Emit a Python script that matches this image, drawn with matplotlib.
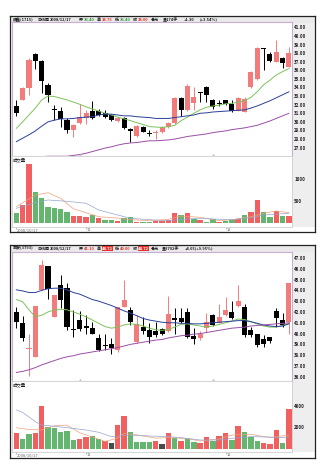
import matplotlib.pyplot as plt
from matplotlib.patches import Rectangle

plt.rcParams['font.family'] = ['Noto Sans CJK SC', 'DejaVu Sans']

W, H = 328, 466

# ---------------- top stock (daily, 2008/10/17 - 2008/12/17)
top_open = [31.8, 32.6, 33.9, 37.9, 37.1, 34.3, 31.45, 31.3, 30.2, 29.0,
            29.9, 30.5, 31.3, 31.3, 31.0, 30.8, 30.1, 30.4, 29.15, 28.3,
            29.45, 28.65, 28.7, 28.8, 29.4, 29.85, 32.8, 31.4, 32.15, 33.45,
            34.0, 32.5, 32.2, 32.5, 32.1, 31.3, 31.2, 34.0, 34.95, 38.5,
            37.85, 37.0, 37.4, 36.4]
top_close = [31.0, 33.9, 37.2, 37.1, 34.7, 33.1, 31.35, 30.3, 29.05, 29.6,
             30.6, 31.0, 30.4, 30.8, 30.6, 30.2, 30.5, 29.25, 28.95, 29.5,
             28.85, 28.6, 28.75, 29.4, 29.9, 32.8, 31.4, 34.2, 32.95, 33.35,
             33.1, 31.7, 32.1, 32.1, 31.3, 32.8, 32.65, 35.8, 38.6, 38.45,
             37.1, 38.15, 36.8, 38.0]
top_high = [32.55, 34.0, 37.4, 38.0, 37.2, 34.55, 32.0, 31.7, 30.45, 29.7,
            32.1, 31.4, 32.4, 31.5, 31.4, 30.9, 30.6, 30.55, 29.25, 29.6,
            29.5, 29.0, 29.0, 29.5, 30.0, 32.9, 32.9, 34.4, 34.0, 33.5,
            34.15, 32.65, 32.5, 32.6, 32.5, 32.95, 32.9, 35.9, 38.7, 38.65,
            38.15, 39.5, 37.55, 38.75]
top_low = [30.7, 32.5, 33.1, 36.15, 33.4, 32.35, 30.2, 29.4, 28.75, 28.2,
           29.75, 29.75, 30.3, 30.7, 30.5, 30.1, 30.0, 29.15, 27.7, 28.2,
           28.8, 28.4, 28.0, 28.7, 29.3, 29.7, 30.7, 31.3, 31.4, 32.35,
           32.35, 31.5, 31.9, 31.95, 31.2, 31.3, 31.1, 33.9, 34.9, 36.05,
           37.0, 37.0, 36.23, 36.4]
top_ma_g = [29.25, 30.0, 30.8, 31.6, 32.55, 33.0, 32.95, 32.75, 32.55, 32.3,
            32.05, 31.75, 31.5, 31.25, 31.0, 30.8, 30.55, 30.35, 30.15, 29.9,
            29.7, 29.45, 29.4, 29.35, 29.45, 29.6, 30.15, 30.55, 31.0, 31.4,
            31.7, 31.85, 31.95, 32.1, 32.15, 32.3, 32.45, 32.85, 33.5, 34.3,
            34.85, 35.45, 35.85, 36.2]
top_ma_b = [27.7, 28.1, 28.5, 28.95, 29.5, 30.0, 30.2, 30.35, 30.35, 30.4,
            30.5, 30.55, 30.6, 30.8, 30.9, 30.9, 30.8, 30.7, 30.7, 30.6,
            30.55, 30.5, 30.4, 30.4, 30.4, 30.5, 30.6, 30.7, 30.8, 31.0,
            31.05, 31.15, 31.2, 31.25, 31.3, 31.35, 31.4, 31.6, 31.85, 32.15,
            32.45, 32.8, 33.15, 33.5]
top_ma_p = [25.95, 25.95, 25.95, 25.95, 25.95, 26.0, 26.0, 26.0, 26.0, 26.1,
            26.2, 26.35, 26.55, 26.75, 26.95, 27.1, 27.3, 27.45, 27.55, 27.6,
            27.7, 27.8, 27.8, 27.85, 27.9, 28.0, 28.15, 28.3, 28.4, 28.5,
            28.6, 28.75, 28.85, 28.95, 29.1, 29.2, 29.3, 29.45, 29.6, 29.85,
            30.1, 30.4, 30.7, 31.0]
top_vol = [227, 416, 1341, 705, 575, 377, 355, 332, 257, 173,
           173, 150, 189, 127, 82, 68, 52, 127, 143, 36,
           36, 36, 59, 45, 68, 227, 189, 234, 91, 82,
           36, 105, 23, 59, 82, 91, 182, 250, 523, 257,
           150, 280, 173, 174]
top_vol_col = list('grrggggggr' 'rrgrggrggr' 'ggrrrrgrgr' 'ggrggrgrrg' 'grgr')
top_vma5_x = [0, 3, 5, 7, 9, 13, 16, 18, 21, 24, 26, 29, 32, 34, 37, 39, 41, 43]
top_vma5 = [377, 643, 695, 568, 330, 150, 118, 82, 59, 91, 167, 136, 59, 82, 150, 227, 280, 242]
top_vma10_x = [0, 3, 5, 8, 11, 13, 16, 18, 21, 24, 26, 29, 32, 34, 37, 39, 43]
top_vma10 = [341, 468, 530, 500, 455, 302, 189, 114, 82, 59, 91, 114, 91, 82, 127, 189, 227]
top_head = [(13, '顺鑫(1715)', 'k', False), (37, '日线图', 'k', False),
            (50, '2008/12/17', 'k', False), (79, '开', 'k', False),
            (84, '36.40', 'g', False), (97, '高', 'k', False),
            (102, '38.75', 'r', False), (115, '低', 'k', False),
            (120, '36.40', 'g', False), (133, '收', 'k', False),
            (138, '38.00', 'r', False), (151, '◆元', 'k', False),
            (163, '量174手', 'k', False), (184, '+1.30', 'k', False),
            (200, '(+3.54%)', 'k', False)]

# ---------------- bottom stock
bot_open = [42.03, 41.0, 38.6, 37.8, 44.05, 46.25, 41.5, 44.5, 44.2, 40.35,
            41.25, 40.7, 40.55, 39.55, 38.95, 39.05, 38.5, 42.5, 42.2, 39.25,
            40.65, 40.35, 40.25, 40.4, 40.2, 41.4, 41.4, 42.0, 39.8, 39.55,
            40.5, 41.7, 41.0, 41.7, 42.0, 42.55, 42.5, 40.35, 39.95, 39.5,
            39.65, 42.1, 41.3, 41.1]
bot_close = [41.1, 39.6, 38.65, 42.55, 46.35, 44.1, 43.6, 43.1, 40.6, 40.3,
             40.4, 40.5, 40.0, 38.5, 38.85, 38.65, 42.5, 43.1, 41.1, 40.85,
             40.2, 39.65, 39.85, 39.95, 41.8, 41.3, 41.1, 39.7, 39.5, 40.0,
             41.1, 40.8, 41.55, 42.2, 41.4, 43.05, 39.85, 39.85, 38.95, 39.05,
             39.3, 41.4, 40.8, 44.72]
bot_high = [42.5, 41.6, 40.0, 42.55, 46.8, 46.25, 43.6, 45.4, 44.65, 42.2,
            42.1, 41.7, 41.1, 40.0, 40.0, 39.55, 42.5, 45.0, 42.5, 41.7,
            41.55, 40.95, 41.1, 40.5, 43.5, 42.35, 42.35, 42.35, 40.5, 40.2,
            41.95, 41.8, 42.75, 43.4, 43.05, 44.5, 42.7, 40.6, 40.0, 39.87,
            39.65, 42.35, 41.95, 44.72]
bot_low = [40.5, 39.35, 36.1, 37.8, 44.05, 43.2, 41.5, 42.35, 40.35, 39.7,
           40.27, 40.0, 39.95, 38.4, 38.45, 38.1, 38.3, 42.5, 40.8, 39.15,
           40.0, 39.1, 39.7, 39.9, 40.1, 39.95, 40.95, 39.6, 39.05, 39.4,
           40.1, 40.7, 40.95, 41.65, 41.35, 42.5, 39.7, 39.7, 38.8, 38.8,
           39.1, 40.6, 40.6, 40.0]
bot_ma_b = [44.05, 43.95, 43.8, 43.8, 44.0, 44.15, 44.2, 44.2, 44.05, 43.8,
            43.65, 43.4, 43.15, 43.0, 42.8, 42.6, 42.35, 42.1, 41.9, 41.65,
            41.4, 41.25, 41.15, 41.05, 41.0, 41.0, 40.95, 40.95, 40.9, 40.9,
            40.95, 41.0, 41.05, 41.1, 41.15, 41.2, 41.2, 41.1, 40.95, 40.8,
            40.7, 40.65, 40.7, 40.9]
bot_ma_g = [43.15, 42.95, 42.2, 41.55, 41.7, 42.0, 42.2, 42.25, 42.2, 42.0,
            41.8, 41.55, 41.25, 40.95, 40.65, 40.5, 40.6, 40.8, 40.9, 40.85,
            40.7, 40.5, 40.35, 40.3, 40.4, 40.6, 40.85, 40.9, 40.8, 40.7,
            40.6, 40.7, 40.85, 41.0, 41.15, 41.35, 41.3, 41.1, 40.9, 40.7,
            40.6, 40.6, 40.75, 40.95]
bot_ma_p = [36.4, 36.5, 36.65, 36.85, 37.1, 37.3, 37.5, 37.7, 37.85, 37.95,
            38.1, 38.2, 38.3, 38.4, 38.5, 38.6, 38.7, 38.85, 39.0, 39.1,
            39.2, 39.3, 39.4, 39.45, 39.6, 39.7, 39.8, 39.85, 39.95, 40.0,
            40.1, 40.2, 40.3, 40.4, 40.5, 40.55, 40.6, 40.7, 40.75, 40.8,
            40.85, 40.9, 40.95, 41.0]
bot_vol = [1447, 922, 1383, 1447, 3992, 2056, 1905, 1537, 1660, 800,
           891, 1137, 1199, 922, 738, 522, 2213, 3043, 1567, 676,
           676, 615, 738, 461, 1447, 983, 768, 922, 676, 522,
           1106, 738, 1168, 1506, 830, 2152, 1537, 1106, 738, 522,
           461, 1721, 584, 3702]
bot_vol_col = list('rggrrggggg' 'rrggrkrrgg' 'ggrkrgrggr' 'rgrrgrgggr' 'rrgr')
bot_vma5_x = [0, 2, 4, 6, 8, 10, 12, 14, 16, 17, 19, 22, 24, 27, 29, 32, 34, 37, 40, 43]
bot_vma5 = [1960, 1800, 1750, 2150, 2200, 1500, 1100, 700, 1000, 1450, 1300, 1000,
            1050, 950, 740, 920, 1290, 1350, 1050, 1290]
bot_vma10_x = [0, 1, 3, 4, 8, 11, 13, 15, 18, 21, 24, 26, 29, 32, 34, 37, 40, 43]
bot_vma10 = [3600, 3380, 2520, 2210, 1970, 1750, 1540, 1140, 1290, 1200, 1140, 1045,
             830, 830, 980, 1140, 1100, 1045]
bot_head = [(13, '潞安(3793)', 'k', False), (37, '日线图', 'k', False),
            (50, '2008/12/17', 'k', False), (79, '开', 'k', False),
            (84, '41.10', 'r', False), (97, '高', 'k', False),
            (102, '44.72', 'w', True), (115, '低', 'k', False),
            (120, '40.00', 'r', False), (133, '收', 'k', False),
            (138, '44.72', 'w', True), (151, '◆元', 'k', False),
            (162, '量3702手', 'k', False), (185, '+4.05(+9.95%)', 'k', False)]

month_pos = [0, 11, 33]
month_lab = ['2008/10/17', '11', '12']
mark_pos = [10, 31]

UP = '#f27c7c'
DOWN = '#000000'
VCOL = {'r': '#f06060', 'g': '#63b56f', 'k': '#4a4a4a'}
TCOL = {'k': '#202020', 'g': '#2e9a3a', 'r': '#e8302a', 'w': 'white'}
FS = 3.5
HFS = 2.9


def px(x0, y0, x1, y1):
    return [x0 / W, 1 - y1 / H, (x1 - x0) / W, (y1 - y0) / H]


fig = plt.figure(figsize=(W / 100, H / 100), dpi=100)


def panel(fy0, fy1, hy, py, vy, o, c, h, l, mas, plim, vol, vcol,
          v5x, v5, v10x, v10, vlim, vticks, ptick0, ptick1, head, doji):
    # frame with header band and grey axis strip
    bg = fig.add_axes(px(10, fy0, 315, fy1))
    bg.set_xlim(10, 315)
    bg.set_ylim(fy1, fy0)
    bg.set_xticks([])
    bg.set_yticks([])
    for s in bg.spines.values():
        s.set_linewidth(0.9)
        s.set_color('#222222')
    bg.add_patch(Rectangle((10, fy0), 305, hy - fy0, color='#e9e9e9', lw=0))
    bg.add_patch(Rectangle((292, hy), 23, vy - hy, color='#eeeeee', lw=0))
    for x, s, col, hl in head:
        kw = {}
        if hl:
            kw['bbox'] = dict(facecolor='#e8302a', edgecolor='none', pad=0.3)
        bg.text(x, (fy0 + hy) / 2 + 0.3, s, color=TCOL[col], fontsize=HFS,
                fontweight='bold', va='center', ha='left', **kw)

    xr = (-0.68, 43.49)
    # price
    ax = fig.add_axes(px(12, hy, 292, py))
    for i in range(len(o)):
        col = UP if c[i] >= o[i] else DOWN
        ax.vlines(i, l[i], h[i], color=col, lw=0.7, zorder=2)
        lo, hi = min(o[i], c[i]), max(o[i], c[i])
        ax.bar(i, max(hi - lo, doji), bottom=lo, width=0.8, color=col,
               lw=0, zorder=3)
    for m, col in zip(mas, ['#7cc35a', '#2b3f98', '#9a4ea6']):
        ax.plot(range(len(m)), m, color=col, lw=0.7, zorder=4)
    ax.plot(mark_pos, [plim[0]] * len(mark_pos), ls='none', marker='^',
            ms=3, mfc='white', mec='#b0b0b0', mew=0.5, clip_on=False, zorder=5)
    ax.set_xlim(*xr)
    ax.set_ylim(*plim)
    ax.set_xticks([])
    ax.yaxis.tick_right()
    ax.set_yticks(range(ptick0, ptick1 + 1))
    ax.set_yticklabels(['%.2f' % t for t in range(ptick0, ptick1 + 1)])
    ax.tick_params(axis='y', length=0, pad=1.5, labelsize=FS - 0.3,
                   labelcolor='#222222')
    for lab in ax.get_yticklabels():
        lab.set_fontweight('bold')
    for s in ax.spines.values():
        s.set_color('#c8aed0')
        s.set_linewidth(0.8)

    # volume
    av = fig.add_axes(px(12, py, 292, vy))
    av.bar(range(len(vol)), vol, width=0.85, color=[VCOL[k] for k in vcol],
           lw=0, zorder=2)
    av.plot(v5x, v5, color='#f0a07a', lw=0.5, zorder=3)
    av.plot(v10x, v10, color='#93a6cc', lw=0.5, zorder=3)
    av.set_xlim(*xr)
    av.set_ylim(*vlim)
    av.set_xticks(month_pos)
    av.set_xticklabels([])
    av.tick_params(axis='x', direction='out', length=1.5, width=0.4,
                   color='#888888')
    av.yaxis.tick_right()
    av.set_yticks(vticks)
    av.set_yticklabels([str(v) for v in vticks])
    av.tick_params(axis='y', length=0, pad=1.5, labelsize=FS - 0.3,
                   labelcolor='#222222')
    for lab in av.get_yticklabels():
        lab.set_fontweight('bold')
    for s in av.spines.values():
        s.set_color('#cfcfcf')
        s.set_linewidth(0.6)
    av.text(0.004, 0.985, '成交量', transform=av.transAxes, fontsize=FS - 0.3,
            va='top', ha='left', color='#222222')
    for p, s in zip(month_pos, month_lab):
        bg.text(12 + (p + 0.68) * 6.34 + 1, vy + 3, s, fontsize=FS - 0.6,
                color='#666666', va='center', ha='left')


panel(16, 232, 22.5, 156, 227, top_open, top_close, top_high, top_low,
      [top_ma_g, top_ma_b, top_ma_p], (26.03, 41.56), top_vol, top_vol_col,
      top_vma5_x, top_vma5, top_vma10_x, top_vma10, (-84, 1530), [500, 1000],
      27, 41, top_head, 0.12)
panel(245, 458, 251.7, 381, 452, bot_open, bot_close, bot_high, bot_low,
      [bot_ma_g, bot_ma_b, bot_ma_p], (35.61, 47.58), bot_vol, bot_vol_col,
      bot_vma5_x, bot_vma5, bot_vma10_x, bot_vma10, (-276, 6267), [2000, 4000],
      36, 47, bot_head, 0.1)

fig.savefig('out.png', dpi=100)
